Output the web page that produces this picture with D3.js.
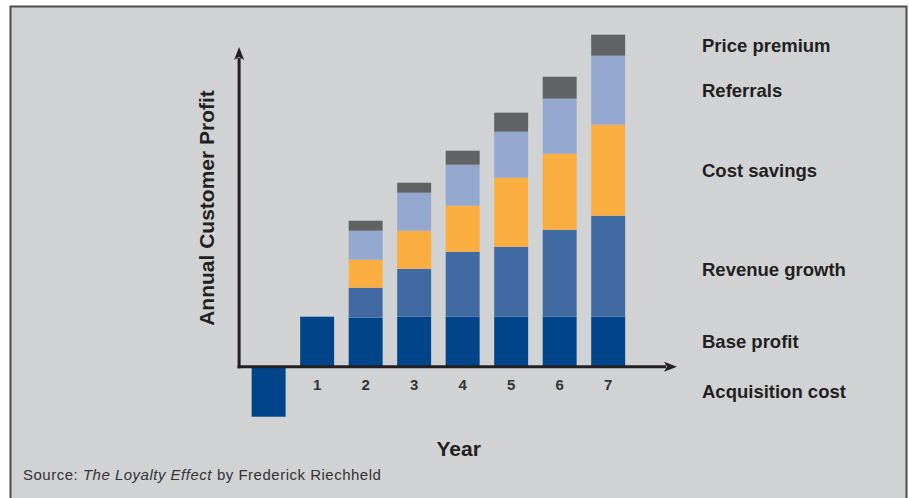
<!DOCTYPE html>
<meta charset="utf-8">
<style>
  body { margin: 0; background: #fff; }
  text { font-family: "Liberation Sans", Arial, sans-serif; }
</style>
<script src="https://d3js.org/d3.v7.min.js"></script>
<body>
<script>

var width = 909,
    height = 498;

// year "0" is the acquisition year (no tick label)
var years = ["0", "1", "2", "3", "4", "5", "6", "7"];
var acquisitionCost = [-50, 0, 0, 0, 0, 0, 0, 0];
var baseProfit      = [0, 50, 49, 50, 50, 50, 50, 50];
var revenueGrowth   = [0, 0, 30, 48, 65, 70, 87, 101];
var costSavings     = [0, 0, 28, 38, 46, 69, 76, 91];
var referrals       = [0, 0, 29, 38, 41, 46, 55, 69];
var pricePremium    = [0, 0, 10, 10, 14, 19, 22, 21];

var keys = ["acq", "base", "rev", "cost", "ref", "price"];
var labels = {acq: "Acquisition cost", base: "Base profit", rev: "Revenue growth",
              cost: "Cost savings", ref: "Referrals", price: "Price premium"};
var color = {acq: "#00458a", base: "#00458a", rev: "#426aa2", cost: "#fbae40",
             ref: "#94a8cf", price: "#616264"};

var table = years.map(function(y, i) {
  return {year: y, acq: acquisitionCost[i], base: baseProfit[i], rev: revenueGrowth[i],
          cost: costSavings[i], ref: referrals[i], price: pricePremium[i]};
});

var series = d3.stack().keys(keys).offset(d3.stackOffsetDiverging)(table);

var x = d3.scaleBand().domain(years).range([237.1, 639.7]).padding(0.3);
var y = d3.scaleLinear().domain([-50, 300]).range([416.7, 66.7]);

var svg = d3.select("body").append("svg")
    .attr("width", width)
    .attr("height", height);

// panel
svg.append("rect")
    .attr("x", 10.5).attr("y", 6.5)
    .attr("width", 896).attr("height", 520)
    .attr("fill", "#d1d2d4")
    .attr("stroke", "#4d4d4f")
    .attr("stroke-width", 2);

// bars
svg.append("g").selectAll("g")
    .data(series)
  .enter().append("g")
    .attr("fill", function(d) { return color[d.key]; })
  .selectAll("rect")
    .data(function(d) { return d; })
  .enter().append("rect")
    .attr("x", function(d) { return x(d.data.year); })
    .attr("y", function(d) { return y(Math.max(d[0], d[1])); })
    .attr("width", x.bandwidth())
    .attr("height", function(d) { return Math.abs(y(d[0]) - y(d[1])); });

// axes with arrows
var axisColor = "#231f20";
var x0 = x.range()[0] + 2, y0 = y(0);
svg.append("line")
    .attr("x1", x0).attr("x2", x0)
    .attr("y1", y0 + 1.5).attr("y2", 58)
    .attr("stroke", axisColor).attr("stroke-width", 3);
svg.append("path")
    .attr("d", "M" + x0 + ",47 L" + (x0 + 5) + ",60 L" + x0 + ",57 L" + (x0 - 5) + ",60 Z")
    .attr("fill", axisColor);
svg.append("line")
    .attr("x1", x0 - 1.5).attr("x2", 666)
    .attr("y1", y0).attr("y2", y0)
    .attr("stroke", axisColor).attr("stroke-width", 3);
svg.append("path")
    .attr("d", "M677," + y0 + " L664," + (y0 - 5) + " L667," + y0 + " L664," + (y0 + 5) + " Z")
    .attr("fill", axisColor);

// year tick labels
var xAxis = svg.append("g")
    .attr("transform", "translate(0," + (y0 + 10) + ")")
    .call(d3.axisBottom(x).tickSize(0).tickFormat(function(d) { return d === "0" ? "" : d; }));
xAxis.select(".domain").remove();
xAxis.selectAll("text")
    .style("font-family", "'Liberation Sans', Arial, sans-serif")
    .attr("font-size", 15)
    .attr("font-weight", "bold")
    .attr("fill", "#333");

// legend labels aligned to the segments of the last bar / acquisition bar
var last = years.length - 1;
svg.append("g").selectAll("text")
    .data(series)
  .enter().append("text")
    .attr("x", 702)
    .attr("y", function(d) {
      var s = d.key === "acq" ? d[0] : d[last];
      return y((s[0] + s[1]) / 2) + (d.key === "rev" ? 3 : 0);
    })
    .attr("dy", "0.35em")
    .attr("font-size", 18.5)
    .attr("font-weight", "bold")
    .attr("fill", "#231f20")
    .text(function(d) { return labels[d.key]; });

// axis titles
svg.append("text")
    .attr("transform", "translate(214,208) rotate(-90)")
    .attr("text-anchor", "middle")
    .attr("font-size", 21)
    .attr("font-weight", "bold")
    .attr("fill", "#231f20")
    .text("Annual Customer Profit");

svg.append("text")
    .attr("x", 458.7).attr("y", 456)
    .attr("text-anchor", "middle")
    .attr("font-size", 21)
    .attr("font-weight", "bold")
    .attr("fill", "#231f20")
    .text("Year");

// source line
var src = svg.append("text")
    .attr("x", 23).attr("y", 480)
    .attr("font-size", 15)
    .attr("letter-spacing", 0.5)
    .attr("fill", "#333");
src.append("tspan").text("Source: ");
src.append("tspan").attr("font-style", "italic").text("The Loyalty Effect");
src.append("tspan").attr("dx", 5).text("by Frederick Riechheld");

</script>
